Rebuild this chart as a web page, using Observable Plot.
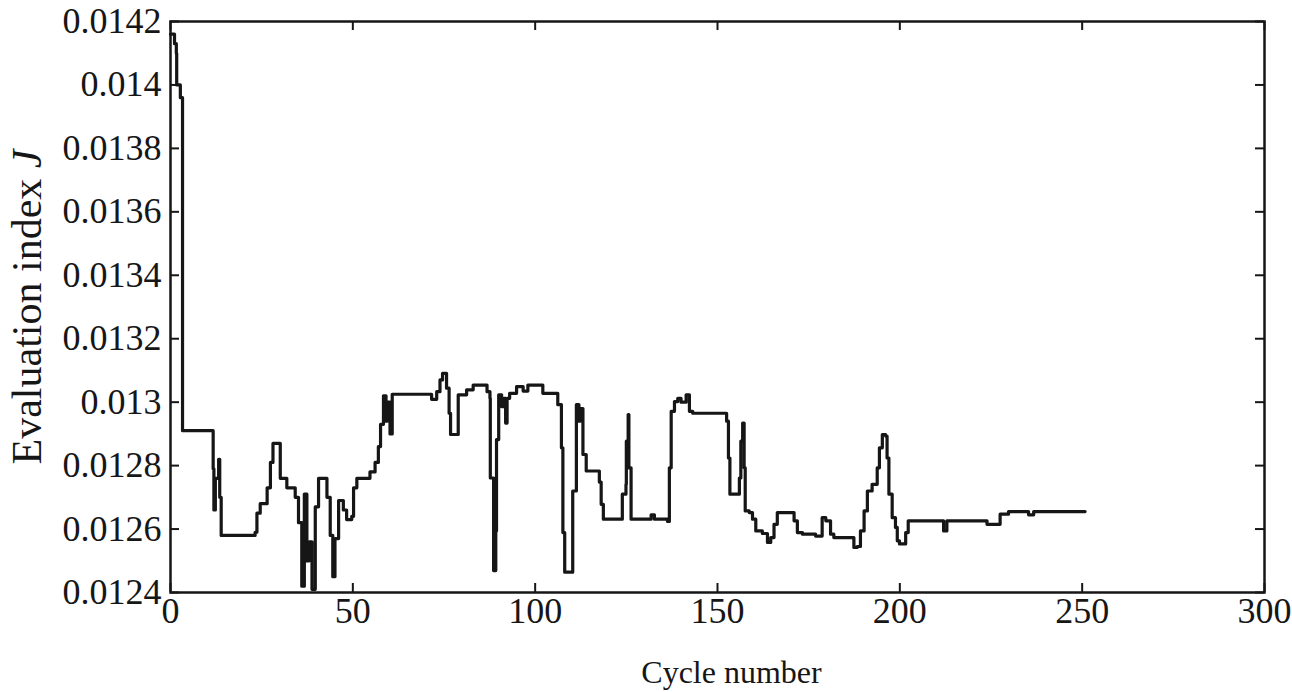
<!DOCTYPE html>
<html>
<head>
<meta charset="utf-8">
<script src="https://cdn.jsdelivr.net/npm/d3@7"></script>
<script src="https://cdn.jsdelivr.net/npm/@observablehq/plot@0.6"></script>
<style>
  html, body { margin: 0; padding: 0; background: #fff; }
  #chart { width: 1292px; height: 692px; }
</style>
</head>
<body>
<div id="chart"></div>
<script>
const cycles = [0, 1.1, 1.6, 1.7, 2.7, 3.2, 3.3, 11.4, 11.7, 11.9, 12.3, 13.2, 13.5, 13.9, 22.8, 23.2, 23.7, 24.6, 26.5, 27.4, 28.1, 29.4, 30.1, 31.9, 34.2, 35.1, 36.0, 36.7, 37.4, 38.0, 38.8, 39.7, 40.6, 42.4, 42.9, 43.8, 44.5, 45.1, 46.1, 47.4, 48.3, 49.7, 50.2, 51.1, 54.3, 54.7, 56.1, 57.0, 57.6, 58.4, 59.1, 59.4, 60.2, 60.8, 70.2, 71.6, 73.0, 73.9, 74.6, 75.7, 76.4, 76.8, 78.3, 78.9, 81.2, 83.0, 84.8, 86.8, 87.6, 87.7, 88.6, 89.2, 89.4, 90.0, 90.8, 91.4, 91.9, 92.3, 93.0, 94.9, 96.7, 98.0, 100.8, 102.1, 105.1, 106.2, 107.2, 107.6, 108.1, 109.9, 110.3, 111.3, 112.0, 112.3, 113.1, 114.0, 117.2, 117.6, 118.1, 118.7, 123.6, 123.9, 124.9, 125.0, 125.5, 125.7, 126.3, 131.0, 131.8, 132.7, 136.3, 136.8, 137.3, 138.2, 139.1, 140.0, 141.4, 142.3, 143.2, 150.9, 152.5, 153.0, 153.4, 155.5, 156.0, 156.4, 156.9, 157.3, 157.6, 158.7, 159.6, 160.5, 162.3, 163.7, 164.6, 165.5, 166.4, 170.1, 171.0, 171.9, 173.3, 176.9, 178.7, 179.7, 181.0, 181.9, 186.0, 187.4, 188.3, 189.2, 190.2, 191.1, 192.4, 193.8, 194.4, 195.2, 196.1, 196.5, 197.0, 197.9, 198.8, 199.3, 199.9, 201.1, 201.6, 202.3, 210.7, 212.0, 212.9, 222.5, 223.9, 226.2, 227.5, 229.8, 233.9, 235.3, 236.7, 250.8];
const jValues = [0.01416, 0.01413, 0.01410, 0.01400, 0.01396, 0.01396, 0.01291, 0.01291, 0.01279, 0.01266, 0.01276, 0.01282, 0.01270, 0.01258, 0.01258, 0.01259, 0.01265, 0.01268, 0.01273, 0.01281, 0.01287, 0.01287, 0.01276, 0.01273, 0.01270, 0.01262, 0.01242, 0.01271, 0.01250, 0.01256, 0.01241, 0.01267, 0.01276, 0.01276, 0.01270, 0.01258, 0.01245, 0.01257, 0.01269, 0.01266, 0.01263, 0.01264, 0.01273, 0.01276, 0.01276, 0.01278, 0.01281, 0.01286, 0.01293, 0.01302, 0.01294, 0.01300, 0.01290, 0.013025, 0.013025, 0.013009, 0.013033, 0.01307, 0.013091, 0.013044, 0.012965, 0.012898, 0.012898, 0.013023, 0.013039, 0.013054, 0.013054, 0.013033, 0.013012, 0.012761, 0.012469, 0.012594, 0.012882, 0.013023, 0.012986, 0.013012, 0.012934, 0.013012, 0.013028, 0.013049, 0.013035, 0.013054, 0.013054, 0.013028, 0.013028, 0.012992, 0.012856, 0.012589, 0.012464, 0.012464, 0.01272, 0.012992, 0.01294, 0.01298, 0.012835, 0.012783, 0.012783, 0.012748, 0.012678, 0.012631, 0.012631, 0.01271, 0.012741, 0.012877, 0.012961, 0.012793, 0.012631, 0.012631, 0.012645, 0.012631, 0.012624, 0.012793, 0.012971, 0.013002, 0.013012, 0.013000, 0.013023, 0.012971, 0.012965, 0.012965, 0.01294, 0.012824, 0.01271, 0.01271, 0.012761, 0.012877, 0.012934, 0.012793, 0.012657, 0.012652, 0.012631, 0.012594, 0.012586, 0.012558, 0.012573, 0.012615, 0.012652, 0.012652, 0.012626, 0.012589, 0.012584, 0.012578, 0.012636, 0.012626, 0.012584, 0.012573, 0.012573, 0.012542, 0.012545, 0.012594, 0.012657, 0.01272, 0.012741, 0.012793, 0.012856, 0.012898, 0.012893, 0.012824, 0.01271, 0.012636, 0.012605, 0.012563, 0.012553, 0.012553, 0.012589, 0.012626, 0.012626, 0.012594, 0.012626, 0.012626, 0.012615, 0.012615, 0.012647, 0.012655, 0.012655, 0.012645, 0.012655, 0.012655];
const xTicks = [0, 50, 100, 150, 200, 250, 300];
const yTicks = [0.0124, 0.0126, 0.0128, 0.013, 0.0132, 0.0134, 0.0136, 0.0138, 0.014, 0.0142];
const xLabel = "Cycle number";
const yLabelMain = "Evaluation index ";
const yLabelSym = "J";

const data = cycles.map((c, i) => ({cycle: c, J: jValues[i]}));

const W = 1292, H = 692;
const mL = 170, mR = 28, mT = 21, mB = 100;
const plotW = W - mL - mR, plotH = H - mT - mB;
const tickLen = 9;
const ink = "#161616";

const chart = Plot.plot({
  width: W,
  height: H,
  marginLeft: mL,
  marginRight: mR,
  marginTop: mT,
  marginBottom: mB,
  style: {fontFamily: "'Liberation Serif', 'Times New Roman', serif", fontSize: "36px", color: ink, background: "#fff", overflow: "visible"},
  x: {domain: [0, 300]},
  y: {domain: [0.0124, 0.0142]},
  marks: [
    Plot.tickX(xTicks, {x: d => d, insetTop: plotH - tickLen, stroke: ink, strokeWidth: 2}),
    Plot.tickX(xTicks, {x: d => d, insetBottom: plotH - tickLen, stroke: ink, strokeWidth: 2}),
    Plot.tickY(yTicks, {y: d => d, insetRight: plotW - tickLen, stroke: ink, strokeWidth: 2}),
    Plot.tickY(yTicks, {y: d => d, insetLeft: plotW - tickLen, stroke: ink, strokeWidth: 2}),
    Plot.axisX({ticks: xTicks, tickSize: 0, tickPadding: 5, label: null, tickFormat: d => String(d), fontSize: 36}),
    Plot.axisY({ticks: yTicks, tickSize: 0, tickPadding: 9, label: null, tickFormat: d => String(d), fontSize: 36}),
    Plot.line(data, {x: "cycle", y: "J", curve: "step-after", stroke: ink, strokeWidth: 3.2, strokeLinejoin: "round"}),
    Plot.frame({stroke: ink, strokeWidth: 2.5}),
    Plot.text([xLabel], {frameAnchor: "bottom", dx: 14, dy: 80, text: d => d, fontSize: 32, lineAnchor: "middle"}),
    Plot.text([yLabelMain + yLabelSym], {frameAnchor: "left", dx: -143, rotate: -90, text: d => d, fontSize: 42, textAnchor: "middle", lineAnchor: "middle", className: "ylab"})
  ]
});

document.getElementById("chart").appendChild(chart);

// italicise the symbol J in the y label
d3.select(chart).selectAll("g.ylab text").each(function() {
  const t = d3.select(this);
  t.text(null);
  t.append("tspan").text(yLabelMain);
  t.append("tspan").attr("font-style", "italic").text(yLabelSym);
});
</script>
</body>
</html>
